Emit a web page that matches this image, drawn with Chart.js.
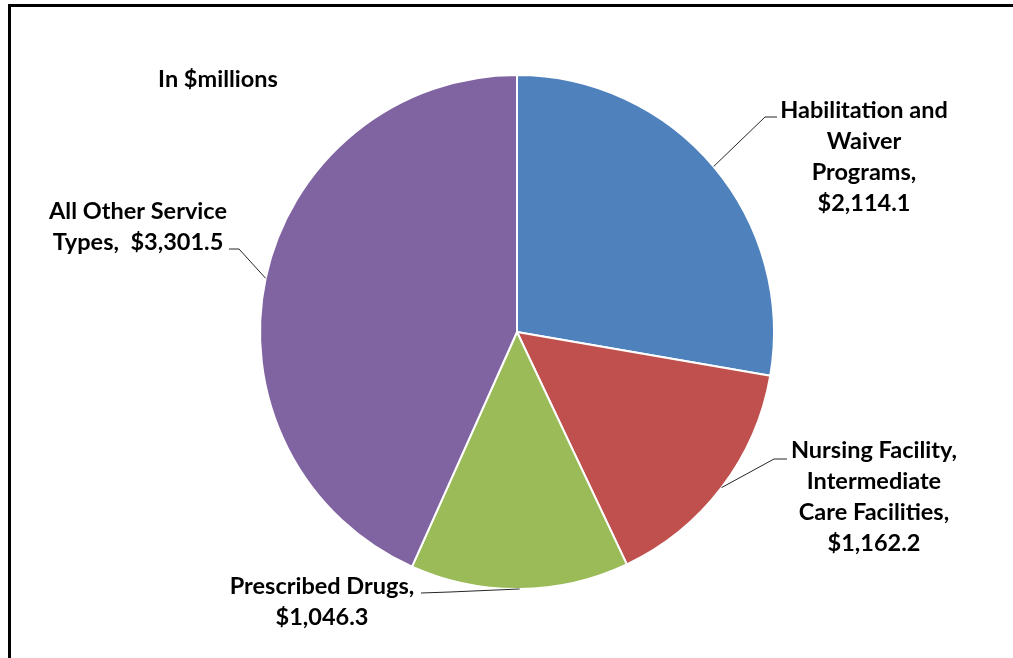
<!DOCTYPE html>
<html>
<head>
<meta charset="utf-8">
<script src="https://cdn.jsdelivr.net/npm/chart.js@4/dist/chart.umd.min.js"></script>
<style>
  html, body { margin: 0; padding: 0; background: #fff; }
  #wrap { position: relative; width: 1013px; height: 658px; }
</style>
</head>
<body>
<div id="wrap"><canvas id="pieChart" width="1013" height="658"></canvas></div>
<script>
// spending by service type, in $millions
const categories = [
  "Habilitation and Waiver Programs",
  "Nursing Facility, Intermediate Care Facilities",
  "Prescribed Drugs",
  "All Other Service Types"
];
const amounts = [2114.1, 1162.2, 1046.3, 3301.5];
const sliceColors = ["#4F81BD", "#C0504D", "#9BBB59", "#8064A2"];

// label text lines (value line is formatted from amounts)
const labelLines = [
  ["Habilitation and", "Waiver", "Programs,"],
  ["Nursing Facility,", "Intermediate", "Care Facilities,"],
  ["Prescribed Drugs,"],
  ["All Other Service"]
];

const fmt = (v) => "$" + v.toLocaleString("en-US", { minimumFractionDigits: 1, maximumFractionDigits: 1 });

// label box centre, first line y, and leader elbow/end points
const labelLayout = [
  { cx: 864, y: 110, elbow: [765, 117], end: [777, 117] },
  { cx: 874, y: 450, elbow: [774, 459], end: [787, 459] },
  { cx: 322, y: 586, elbow: [450, 592], end: [421, 593] },
  { cx: 138, y: 211, elbow: [239, 249], end: [229, 249] }
];

const FONT = "bold 23.5px Lato, 'Open Sans', sans-serif";
const LINE_H = 31;

const framePlugin = {
  id: "frame",
  beforeDraw(chart) {
    const ctx = chart.ctx;
    ctx.save();
    ctx.fillStyle = "#fff";
    ctx.fillRect(0, 0, chart.width, chart.height);
    ctx.strokeStyle = "#000";
    ctx.lineWidth = 3;
    ctx.strokeRect(9.5, 5.5, chart.width + 20, chart.height + 20);
    ctx.restore();
  }
};

const labelsPlugin = {
  id: "pieLabels",
  afterDraw(chart) {
    const ctx = chart.ctx;
    const arcs = chart.getDatasetMeta(0).data;
    ctx.save();
    ctx.font = FONT;
    ctx.fillStyle = "#000";
    ctx.textAlign = "center";
    ctx.textBaseline = "middle";

    ctx.fillText("In $millions", 218, 79);

    arcs.forEach((arc, i) => {
      const { x, y, startAngle, endAngle, outerRadius } = arc.getProps(["x", "y", "startAngle", "endAngle", "outerRadius"]);
      const mid = (startAngle + endAngle) / 2;
      const ax = x + Math.cos(mid) * outerRadius;
      const ay = y + Math.sin(mid) * outerRadius;
      const lay = labelLayout[i];

      // leader line
      ctx.strokeStyle = "#262626";
      ctx.lineWidth = 1;
      ctx.beginPath();
      ctx.moveTo(ax, ay);
      ctx.lineTo(lay.elbow[0], lay.elbow[1]);
      ctx.lineTo(lay.end[0], lay.end[1]);
      ctx.stroke();

      let lines = labelLines[i].slice();
      if (i === 3) {
        lines.push("Types,  " + fmt(amounts[i]));
      } else {
        lines.push(fmt(amounts[i]));
      }
      lines.forEach((t, k) => {
        ctx.fillText(t, lay.cx, lay.y + k * LINE_H);
      });
    });
    ctx.restore();
  }
};

new Chart(document.getElementById("pieChart"), {
  type: "pie",
  data: {
    labels: categories,
    datasets: [{
      data: amounts,
      backgroundColor: sliceColors,
      borderColor: "#ffffff",
      borderWidth: 2,
      hoverOffset: 0
    }]
  },
  options: {
    responsive: false,
    animation: false,
    radius: 257,
    layout: { padding: { top: 75, bottom: 69, left: 100, right: 79 } },
    plugins: {
      legend: { display: false },
      tooltip: { enabled: false }
    }
  },
  plugins: [framePlugin, labelsPlugin]
});
</script>
</body>
</html>
